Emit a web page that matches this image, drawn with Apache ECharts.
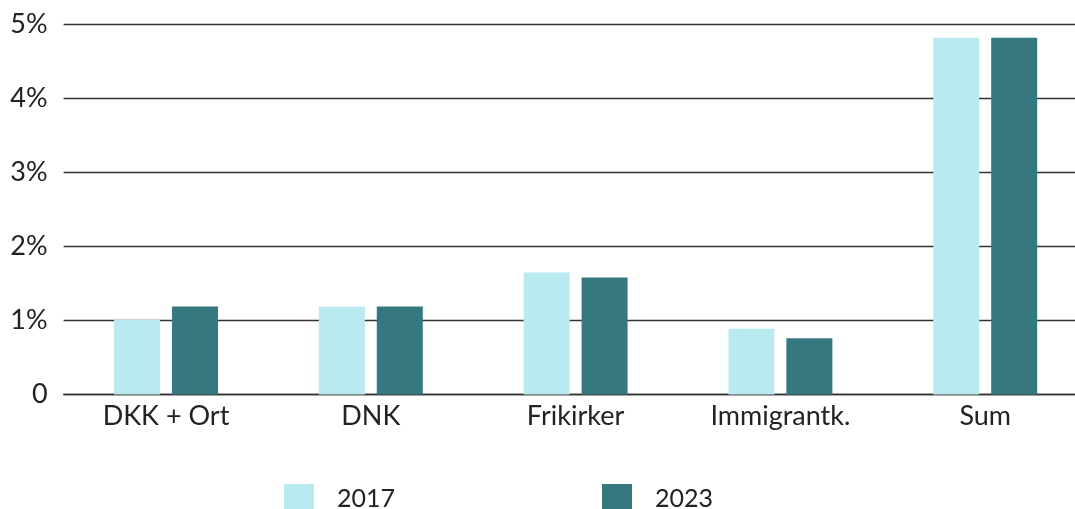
<!DOCTYPE html>
<html>
<head>
<meta charset="utf-8">
<script src="https://cdn.jsdelivr.net/npm/echarts@6/dist/echarts.min.js"></script>
<style>
html,body{margin:0;padding:0;background:#fff;overflow:hidden;}
#chart{width:1088px;height:509px;}
</style>
</head>
<body>
<div id="chart"></div>
<script>
const categories = ['DKK + Ort', 'DNK', 'Frikirker', 'Immigrantk.', 'Sum'];
const values2017 = [1.01, 1.19, 1.65, 0.89, 4.82];
const values2023 = [1.19, 1.19, 1.58, 0.76, 4.82];
const seriesNames = ['2017', '2023'];
const yTicks = [0, 1, 2, 3, 4, 5];

const colors = ['#b8eaf0', '#367880'];
const fontFamily = 'Lato, "Open Sans", sans-serif';
const textColor = '#222';

const chart = echarts.init(document.getElementById('chart'), null, {renderer: 'canvas'});
chart.setOption({
  animation: false,
  grid: {left: 63.6, top: 24.5, right: 0.4, bottom: 114.5, containLabel: false},
  legend: [
    {data: [seriesNames[0]], left: 284, top: 484, padding: 0, itemWidth: 30, itemHeight: 30, icon: 'rect',
     textStyle: {fontFamily, fontSize: 25, color: textColor, padding: [0, 0, 0, 18]}},
    {data: [seriesNames[1]], left: 602, top: 484, padding: 0, itemWidth: 30, itemHeight: 30, icon: 'rect',
     textStyle: {fontFamily, fontSize: 25, color: textColor, padding: [0, 0, 0, 18]}}
  ],
  xAxis: {
    type: 'category',
    data: categories,
    boundaryGap: true,
    axisLine: {show: true, lineStyle: {color: '#333', width: 1.3}},
    axisTick: {show: false},
    axisLabel: {fontFamily, fontSize: 27, color: textColor, margin: 8}
  },
  yAxis: {
    type: 'value',
    min: yTicks[0], max: yTicks[yTicks.length - 1], interval: 1,
    axisLine: {show: false},
    axisTick: {show: false},
    splitLine: {show: true, lineStyle: {color: '#333', width: 1.3}},
    axisLabel: {fontFamily, fontSize: 27, color: textColor, margin: 16,
      formatter: v => v === 0 ? '0' : v + '%'}
  },
  series: [
    {name: seriesNames[0], type: 'bar', data: values2017, barWidth: 46, barGap: '26%',
     itemStyle: {color: colors[0]}},
    {name: seriesNames[1], type: 'bar', data: values2023, barWidth: 46, barGap: '26%',
     itemStyle: {color: colors[1]}}
  ]
});
</script>
</body>
</html>
